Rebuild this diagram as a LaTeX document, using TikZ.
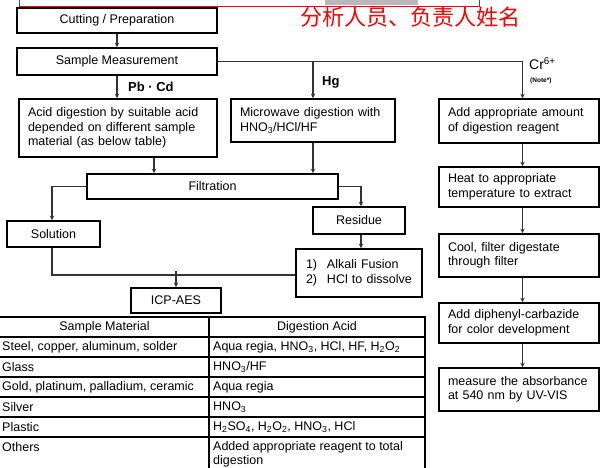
\documentclass[tikz,border=0pt]{standalone}
\usepackage{fontspec}
\setmainfont{Liberation Sans}
\newfontfamily\cjkfont{Noto Sans CJK SC}
\usetikzlibrary{arrows.meta}
\begin{document}
\begin{tikzpicture}[x=1pt,y=-1pt,
  every node/.style={font=\fontsize{12.5}{14.5}\selectfont},
  box/.style={draw, line width=1.6pt, inner sep=0pt, align=center},
  lbox/.style={draw, line width=1.6pt, inner xsep=9pt, inner ysep=0pt, align=left},
  conn/.style={line width=1.2pt, draw=black!80},
  arr/.style={conn, -{Stealth[length=4.5pt,width=4.5pt]}},
  lbl/.style={inner sep=0pt, anchor=west},
  tline/.style={line width=1.5pt},
  touter/.style={line width=2pt},
]
\useasboundingbox (0,0) rectangle (600,467);

% top cropped red frame
\fill[gray!55] (325,-1) rectangle (418,5);
\draw[red, line width=1pt] (19,-3) -- (19,6) -- (479,6) -- (479,-3);
\node[lbl, text=red, font=\cjkfont\fontsize{22}{24}\selectfont] (cn) at (300,17) {分析人员、负责人姓名};

% left column
\node[box, minimum width=200pt, minimum height=25pt] (cut) at (117,20.5) {Cutting / Preparation};
\node[box, minimum width=200pt, minimum height=27pt] (meas) at (117,61.5) {Sample Measurement};
\node[lbox, text width=180pt, minimum height=58pt] (acid) at (118,128) {Acid digestion by suitable acid\\depended on different sample\\material (as below table)};
\node[lbox, text width=146pt, minimum height=43pt] (micro) at (313,120.5) {Microwave digestion with\\HNO\textsubscript{3}/HCl/HF};

\node[box, minimum width=251pt, minimum height=25pt] (filt) at (212.5,186.5) {Filtration};
\node[box, minimum width=93pt, minimum height=26pt] (sol) at (53.5,234) {Solution};
\node[box, minimum width=92pt, minimum height=27pt] (res) at (359,220.5) {Residue};
\node[lbox, inner xsep=10pt, text width=106pt, minimum height=48pt] (alk) at (359,273) {\makebox[21pt][l]{1)}Alkali Fusion\\\makebox[21pt][l]{2)}HCl to dissolve};
\node[box, minimum width=90pt, minimum height=25pt] (icp) at (176,300.5) {ICP-AES};

% Cr column
\node[lbox, text width=142pt, minimum height=44pt] (cr1) at (519,121) {Add appropriate amount\\of digestion reagent};
\node[lbox, text width=142pt, minimum height=40pt] (cr2) at (519,187) {Heat to appropriate\\temperature to extract};
\node[lbox, text width=142pt, minimum height=43pt] (cr3) at (519,255.5) {Cool, filter digestate\\through filter};
\node[lbox, text width=142pt, minimum height=40pt] (cr4) at (519,323) {Add diphenyl-carbazide\\for color development};
\node[lbox, text width=142pt, minimum height=43pt] (cr5) at (519,389.5) {measure the absorbance\\at 540 nm by UV-VIS};

% labels
\node[lbl, font=\bfseries\fontsize{13}{15}\selectfont] (pbcd) at (128,87) {Pb · Cd};
\node[lbl, font=\bfseries\fontsize{13}{15}\selectfont] (hg) at (322,82) {Hg};
\node[lbl, font=\fontsize{14}{16}\selectfont] (cr) at (529,64) {Cr\textsuperscript{6+}};
\node[lbl, font=\bfseries\fontsize{6.5}{7}\selectfont] (note) at (530,81) {(Note*)};

% connectors
\coordinate (crtop) at (522.5,61.5);
\draw[arr] (cut) -- (meas);
\draw[arr] (meas.south) -- (meas.south |- acid.north);
\draw[conn] (meas.east) -- (crtop);
\draw[arr] (crtop) -- (crtop |- cr1.north);
\draw[arr] (micro.north |- meas.east) -- (micro.north);
\draw[arr] ([xshift=3.5pt]cr1.south) -- ([xshift=3.5pt]cr2.north);
\draw[arr] ([xshift=3.5pt]cr2.south) -- ([xshift=3.5pt]cr3.north);
\draw[arr] ([xshift=3.5pt]cr3.south) -- ([xshift=3.5pt]cr4.north);
\draw[arr] ([xshift=3.5pt]cr4.south) -- ([xshift=3.5pt]cr5.north);
\draw[arr] ([xshift=36pt]acid.south) -- ([xshift=36pt]acid.south |- filt.north);
\draw[arr] (micro.south) -- (micro.south |- filt.north);
\draw[arr] (filt.west) -| ([xshift=-1.5pt]sol.north);
\draw[arr] (filt.east) -| ([xshift=2pt]res.north);
\draw[arr] ([xshift=2pt]res.south) -- ([xshift=2pt]alk.north);
\draw[conn] ([xshift=-1.5pt]sol.south) |- ([yshift=-2pt]alk.west);
\draw[arr] (icp.north |- 0,271) -- (icp.north);

% table
\draw[touter] (0,317) -- (425,317);
\draw[touter] (425,316) -- (425,468);
\draw[tline] (209,317) -- (209,468);
\foreach \yy in {337,357,377,397,417,437} {\draw[tline] (0,\yy) -- (425,\yy);}
\node (h1) at (104.5,327) {Sample Material};
\node (h2) at (317,327) {Digestion Acid};
\node[lbl] (a1) at (2,347) {Steel, copper, aluminum, solder};
\node[lbl] (b1) at (213,347) {Aqua regia, HNO\textsubscript{3}, HCl, HF, H\textsubscript{2}O\textsubscript{2}};
\node[lbl] (a2) at (2,367) {Glass};
\node[lbl] (b2) at (213,367) {HNO\textsubscript{3}/HF};
\node[lbl] (a3) at (2,387) {Gold, platinum, palladium, ceramic};
\node[lbl] (b3) at (213,387) {Aqua regia};
\node[lbl] (a4) at (2,407) {Silver};
\node[lbl] (b4) at (213,407) {HNO\textsubscript{3}};
\node[lbl] (a5) at (2,427) {Plastic};
\node[lbl] (b5) at (213,427) {H\textsubscript{2}SO\textsubscript{4}, H\textsubscript{2}O\textsubscript{2}, HNO\textsubscript{3}, HCl};
\node[lbl] (a6) at (2,447) {Others};
\node[lbl, anchor=north west, align=left] (b6) at (213,441) {Added appropriate reagent to total\\digestion};
\end{tikzpicture}
\end{document}
